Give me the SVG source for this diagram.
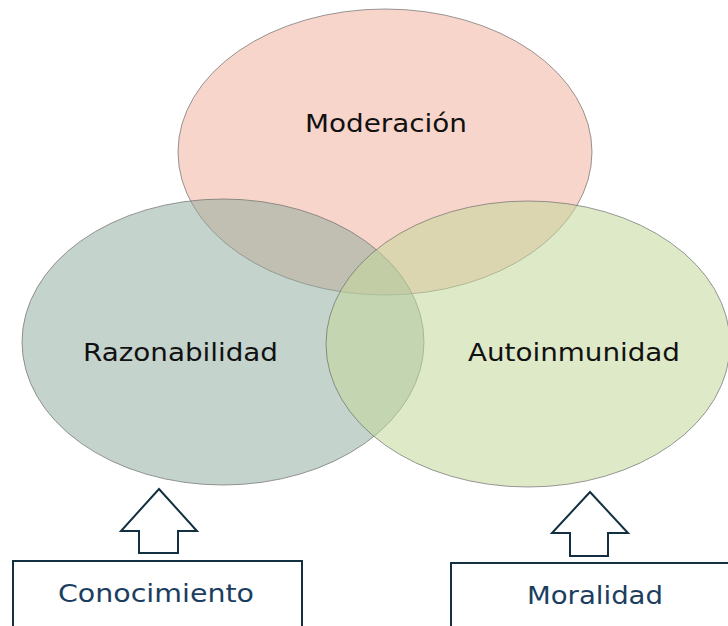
<svg xmlns="http://www.w3.org/2000/svg" width="728" height="626" viewBox="0 0 728 626">
<style>
.ell{stroke:#6e6e6e;stroke-width:1;stroke-opacity:0.7}
.lbl{font-family:"DejaVu Sans","Noto Sans",sans-serif;font-size:24px;fill:#111;text-anchor:middle}
.box{fill:#fff;stroke:#12303f;stroke-width:2}
.arr{fill:#fff;stroke:#12303f;stroke-width:2;stroke-linejoin:miter}
.blbl{font-family:"DejaVu Sans","Noto Sans",sans-serif;font-size:24px;fill:#1b3e60;text-anchor:middle}
</style>
<rect width="728" height="626" fill="#fff"/>
<g id="moderacion">
<ellipse class="ell" cx="385" cy="152" rx="207" ry="143" fill="#f8d5ca"/>
</g>
<g id="razonabilidad">
<ellipse class="ell" cx="223" cy="342" rx="201" ry="143" fill="#8aa89a" fill-opacity="0.5"/>
</g>
<g id="autoinmunidad">
<ellipse class="ell" cx="528" cy="344" rx="202" ry="143" fill="#c3d79a" fill-opacity="0.55"/>
</g>
<g id="labels">
<text class="lbl" x="386" y="132" textLength="162" lengthAdjust="spacingAndGlyphs">Moderación</text>
<text class="lbl" x="180.5" y="361" textLength="195" lengthAdjust="spacingAndGlyphs">Razonabilidad</text>
<text class="lbl" x="574" y="361" textLength="212" lengthAdjust="spacingAndGlyphs">Autoinmunidad</text>
</g>
<g id="connectors">
<polygon class="arr" points="159,489 197,531 178,531 178,553 139,553 139,531 121,531"/>
<polygon class="arr" points="590,492 628,533 608,533 608,556 570,556 570,533 552,533"/>
</g>
<g id="conocimiento">
<rect class="box" x="13" y="561" width="289" height="80"/>
<text class="blbl" x="156" y="602" textLength="196" lengthAdjust="spacingAndGlyphs">Conocimiento</text>
</g>
<g id="moralidad">
<rect class="box" x="451" y="563" width="300" height="80"/>
<text class="blbl" x="595" y="604" textLength="136" lengthAdjust="spacingAndGlyphs">Moralidad</text>
</g>
</svg>
